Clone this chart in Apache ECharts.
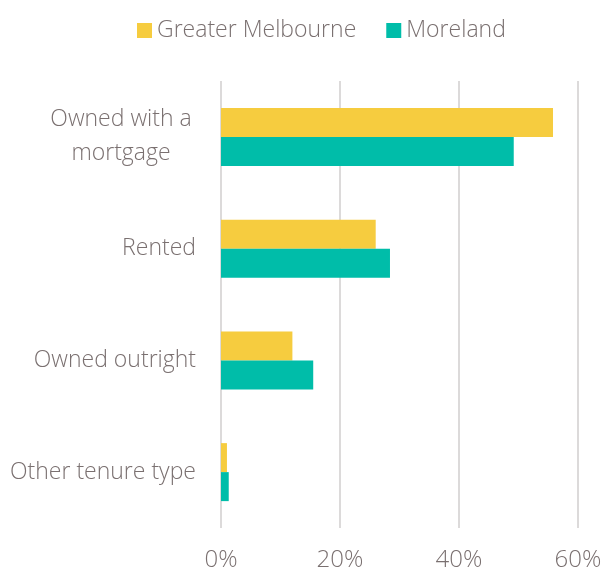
<!DOCTYPE html>
<html>
<head>
<meta charset="utf-8">
<script src="https://cdn.jsdelivr.net/npm/echarts@6/dist/echarts.min.js"></script>
<style>
  html, body { margin: 0; padding: 0; background: #fff; }
  #main { width: 606px; height: 572px; }
</style>
</head>
<body>
<div id="main"></div>
<script>
// tenure categories, top to bottom
var categories = ['Owned with a\nmortgage', 'Rented', 'Owned outright', 'Other tenure type'];
var greaterMelbourne = [55.8, 26.0, 12.0, 1.0];
var moreland = [49.2, 28.4, 15.5, 1.3];
var xTicks = [0, 20, 40, 60];

var textColor = '#7a7070';
var font = 'Open Sans';

var myChart = echarts.init(document.getElementById('main'));
myChart.setOption({
  animation: false,
  textStyle: { fontFamily: font },
  legend: {
    top: 14,
    left: 132,
    itemWidth: 15,
    itemHeight: 15,
    itemGap: 30,
    icon: 'rect',
    textStyle: { color: textColor, fontSize: 23, fontFamily: font, fontWeight: 300 },
    data: ['Greater Melbourne', 'Moreland']
  },
  grid: { left: 221, right: 28, top: 81, bottom: 42, containLabel: false },
  xAxis: {
    type: 'value',
    min: xTicks[0],
    max: xTicks[xTicks.length - 1],
    interval: 20,
    axisLine: { show: false },
    axisTick: { show: false },
    splitLine: { lineStyle: { color: '#dcdada', width: 2 } },
    axisLabel: {
      formatter: '{value}%',
      color: textColor,
      fontSize: 24,
      fontFamily: font,
      fontWeight: 300,
      margin: 20
    }
  },
  yAxis: {
    type: 'category',
    inverse: true,
    data: categories,
    axisLine: { show: false },
    axisTick: { show: false },
    axisLabel: {
      color: textColor,
      fontSize: 23,
      fontFamily: font,
      fontWeight: 300,
      margin: 25,
      formatter: function (v) {
        return v.indexOf('\n') >= 0 ? '{c|' + v + '}' : v;
      },
      rich: {
        c: {
          width: 150,
          align: 'center',
          lineHeight: 34,
          color: textColor,
          fontSize: 23,
          fontFamily: font,
          fontWeight: 300
        }
      }
    }
  },
  series: [
    {
      name: 'Greater Melbourne',
      type: 'bar',
      data: greaterMelbourne,
      barWidth: 29,
      barGap: '0%',
      itemStyle: { color: '#f6cc3f' }
    },
    {
      name: 'Moreland',
      type: 'bar',
      data: moreland,
      barWidth: 29,
      barGap: '0%',
      itemStyle: { color: '#00bda9' }
    }
  ]
});
</script>
</body>
</html>
